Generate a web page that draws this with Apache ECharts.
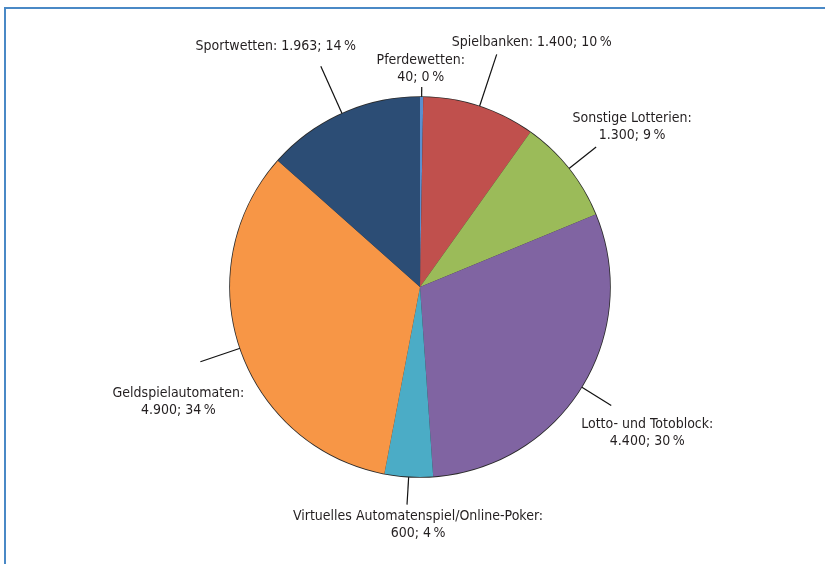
<!DOCTYPE html>
<html>
<head>
<meta charset="utf-8">
<script src="https://cdn.jsdelivr.net/npm/echarts@6/dist/echarts.min.js"></script>
<style>
  html, body { margin: 0; padding: 0; background: #fff; }
  #chart { position: absolute; left: 0; top: 0; width: 825px; height: 564px; }
  #frame { position: absolute; left: 4px; top: 7px; right: 0; bottom: 0;
           border-top: 2px solid #4a89c6; border-left: 2px solid #4a89c6; pointer-events: none; }
</style>
</head>
<body>
<div id="chart"></div>
<div id="frame"></div>
<script>
// Glücksspielmarkt: Bruttospielerträge nach Segment (Mio. Euro)
const categories = [
  'Pferdewetten',
  'Spielbanken',
  'Sonstige Lotterien',
  'Lotto- und Totoblock',
  'Virtuelles Automatenspiel/Online-Poker',
  'Geldspielautomaten',
  'Sportwetten'
];
const values = [40, 1400, 1300, 4400, 600, 4900, 1963];
const percents = [0, 10, 9, 30, 4, 34, 14];

// presentation
const colors = ['#5a8fcf', '#c0504d', '#9bbb59', '#8064a2', '#4bacc6', '#f79646', '#2c4d75'];
const twoLineLabel = [true, false, true, true, true, true, false];
const lineLengths = [10, 55, 35, 35, 28, 42, 52];
// label centre relative to the end of its leader line
const labelOffsets = [[-1, -18], [35, -12], [36, -20], [36, 27], [11, 20], [-22, 40], [-45, -20]];

function fmtNumber(v) {
  return String(v).replace(/\B(?=(\d{3})+(?!\d))/g, '.');
}

const pieData = categories.map((name, i) => ({
  name,
  value: values[i],
  itemStyle: { color: colors[i] },
  labelLine: { length: lineLengths[i] }
}));

const chart = echarts.init(document.getElementById('chart'), null, { renderer: 'canvas' });
chart.setOption({
  animation: false,
  backgroundColor: 'transparent',
  series: [
    {
      // thin dark rim around the pie
      type: 'pie',
      silent: true,
      center: [420, 287],
      radius: 190.8,
      startAngle: 90,
      label: { show: false },
      labelLine: { show: false },
      data: [{ value: 1, itemStyle: { color: '#2a2a2a' } }]
    },
    {
      type: 'pie',
      center: [420, 287],
      radius: 190,
      startAngle: 90,
      clockwise: true,
      avoidLabelOverlap: false,
      itemStyle: { borderWidth: 0 },
      label: {
        show: true,
        position: 'outside',
        alignTo: 'none',
        fontFamily: '"DejaVu Sans Condensed", "Liberation Sans Narrow", "Roboto", sans-serif',
        fontSize: 14,
        lineHeight: 17,
        color: '#231f20',
        align: 'center',
        formatter: (p) => {
          const i = p.dataIndex;
          const sep = twoLineLabel[i] ? ':\n' : ': ';
          return p.name + sep + fmtNumber(values[i]) + '; ' + percents[i] + '\u2009%';
        }
      },
      labelLine: {
        show: true,
        length2: 0,
        smooth: false,
        lineStyle: { color: '#111', width: 1.2 }
      },
      labelLayout: (params) => {
        const i = params.dataIndex;
        const pts = params.labelLinePoints;
        if (!pts) return {};
        const end = pts[pts.length - 1];
        return {
          x: end[0] + labelOffsets[i][0],
          y: end[1] + labelOffsets[i][1],
          align: 'center',
          verticalAlign: 'middle',
          labelLinePoints: pts
        };
      },
      data: pieData
    }
  ]
});
</script>
</body>
</html>
